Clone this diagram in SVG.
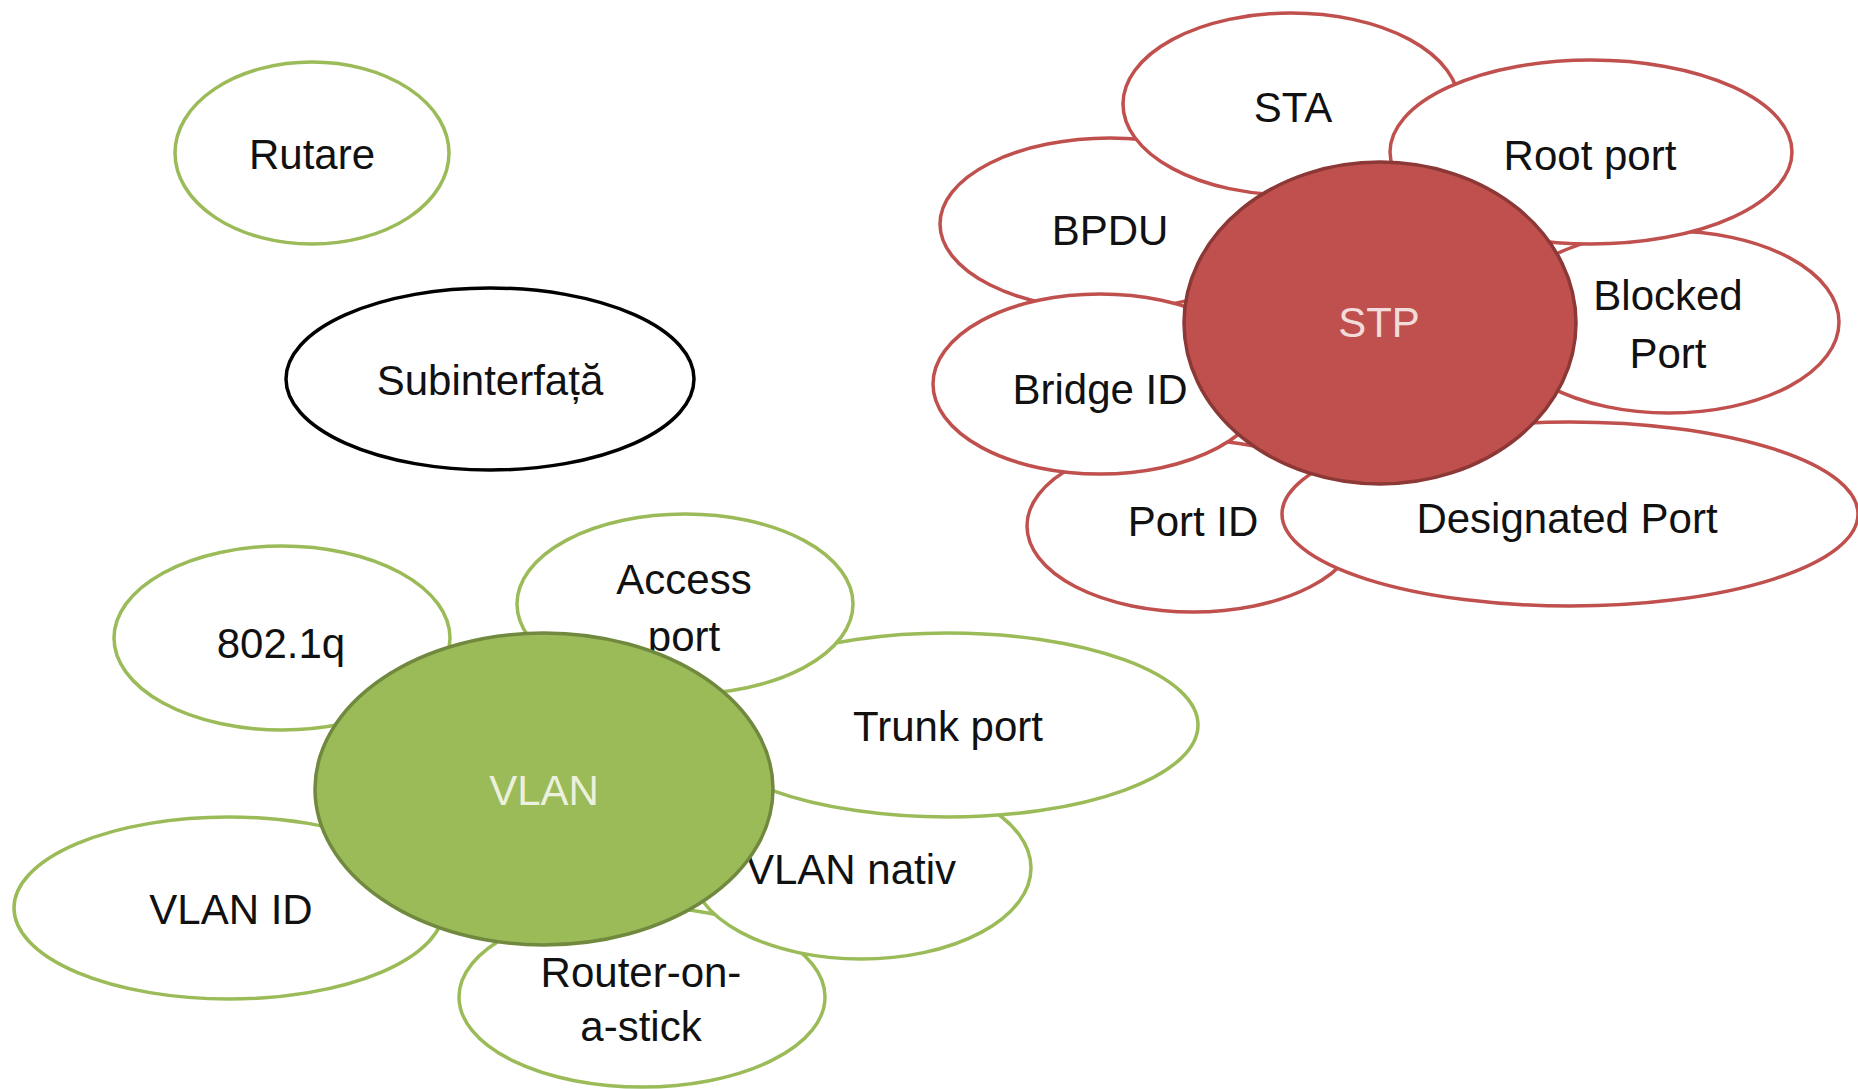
<svg xmlns="http://www.w3.org/2000/svg" width="1858" height="1089" viewBox="0 0 1858 1089">
<style>
text{font-family:"Liberation Sans",Arial,sans-serif;font-size:42px;fill:#111;text-anchor:middle;dominant-baseline:central}
.g{fill:#fff;stroke:#9bbb59;stroke-width:3.5}
.r{fill:#fff;stroke:#c0504d;stroke-width:3.5}
.k{fill:#fff;stroke:#000;stroke-width:3.5}
</style>
<rect width="1858" height="1089" fill="#fff"/>
<g id="rutare"><ellipse class="g" cx="312" cy="153" rx="137" ry="91"/><text x="312" y="154">Rutare</text></g>
<g id="subinterfata"><ellipse class="k" cx="490" cy="379" rx="204" ry="91"/><text x="490" y="380">Subinterfață</text></g>

<g id="port-id"><ellipse class="r" cx="1193" cy="526" rx="166" ry="86"/><text x="1193" y="521">Port ID</text></g>
<g id="designated-port"><ellipse class="r" cx="1570" cy="514" rx="288" ry="92"/><text x="1567" y="518">Designated Port</text></g>
<g id="blocked-port"><ellipse class="r" cx="1669" cy="322" rx="170" ry="91"/><text x="1668" y="295">Blocked</text><text x="1668" y="353">Port</text></g>
<g id="bpdu"><ellipse class="r" cx="1110" cy="224" rx="170" ry="86"/><text x="1110" y="230">BPDU</text></g>
<g id="bridge-id"><ellipse class="r" cx="1100" cy="384" rx="167" ry="90"/><text x="1100" y="389">Bridge ID</text></g>
<g id="sta"><ellipse class="r" cx="1291" cy="104" rx="168" ry="91"/><text x="1293" y="107">STA</text></g>
<g id="root-port"><ellipse class="r" cx="1591" cy="152" rx="201" ry="92"/><text x="1590" y="155">Root port</text></g>
<g id="stp"><ellipse cx="1380" cy="323" rx="196" ry="161" fill="#c0504d" stroke="#8c3836" stroke-width="3.5"/><text x="1379" y="322" style="fill:#f2dcdb">STP</text></g>

<g id="router-on-a-stick"><ellipse class="g" cx="642" cy="997" rx="183" ry="90"/><text x="641" y="972">Router-on-</text><text x="641" y="1026">a-stick</text></g>
<g id="vlan-nativ"><ellipse class="g" cx="861" cy="868" rx="170" ry="91"/><text x="851" y="869">VLAN nativ</text></g>
<g id="trunk-port"><ellipse class="g" cx="948" cy="725" rx="250" ry="92"/><text x="948" y="726">Trunk port</text></g>
<g id="access-port"><ellipse class="g" cx="685" cy="604" rx="168" ry="90"/><text x="684" y="579">Access</text><text x="684" y="636">port</text></g>
<g id="dot1q"><ellipse class="g" cx="282" cy="638" rx="168" ry="92"/><text x="281" y="643">802.1q</text></g>
<g id="vlan-id"><ellipse class="g" cx="229" cy="908" rx="215" ry="91"/><text x="231" y="909">VLAN ID</text></g>
<g id="vlan"><ellipse cx="544" cy="789" rx="229" ry="156" fill="#9bbb59" stroke="#71893f" stroke-width="3.5"/><text x="544" y="790" style="fill:#ebf1de">VLAN</text></g>

<g id="connectors"></g>
</svg>
